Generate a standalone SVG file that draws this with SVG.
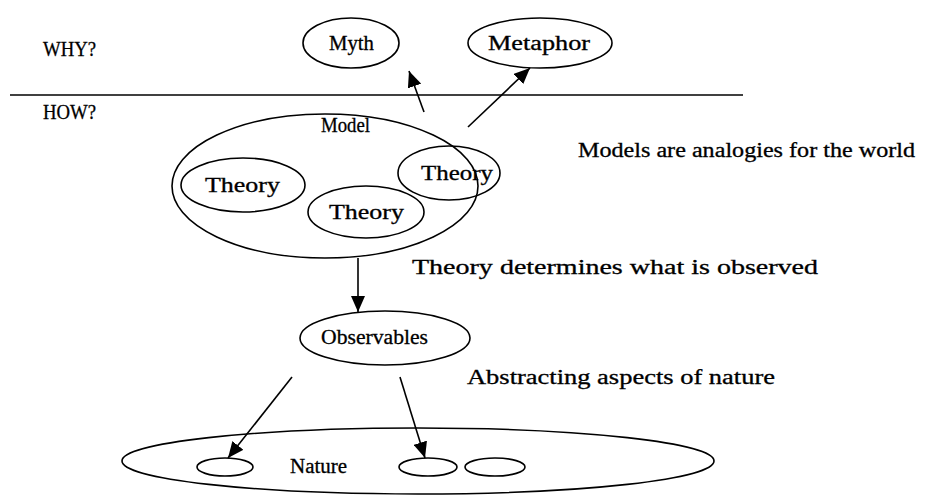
<svg xmlns="http://www.w3.org/2000/svg" width="949" height="502" viewBox="0 0 949 502">
<style>
text{font-family:"Liberation Serif","Times New Roman",serif;fill:#000;stroke:#000;stroke-width:0.3;font-size:20px;}
.e{fill:none;stroke:#000;stroke-width:1.6;}
.c{fill:none;stroke:#000;stroke-width:1.6;marker-end:url(#ah);}
</style>
<defs>
<marker id="ah" markerUnits="userSpaceOnUse" markerWidth="17" markerHeight="14" refX="16" refY="7" orient="auto">
<path d="M0,0 L16,7 L0,14 Z" fill="#000"/>
</marker>
</defs>
<rect width="949" height="502" fill="#fff"/>
<g id="labels">
<text x="43" y="56" textLength="53" lengthAdjust="spacingAndGlyphs">WHY?</text>
<text x="43" y="119" textLength="53" lengthAdjust="spacingAndGlyphs">HOW?</text>
<text x="578" y="157" textLength="337" lengthAdjust="spacingAndGlyphs">Models are analogies for the world</text>
<text x="412" y="274" textLength="406" lengthAdjust="spacingAndGlyphs">Theory determines what is observed</text>
<text x="467" y="384" textLength="308" lengthAdjust="spacingAndGlyphs">Abstracting aspects of nature</text>
</g>
<g id="divider"><line x1="10" y1="95" x2="743" y2="95" stroke="#000" stroke-width="1.6"/></g>
<g id="myth"><ellipse class="e" cx="351" cy="43" rx="48" ry="25"/><text x="329" y="50" textLength="45" lengthAdjust="spacingAndGlyphs">Myth</text></g>
<g id="metaphor"><ellipse class="e" cx="540" cy="43" rx="72" ry="25"/><text x="488" y="50" textLength="102" lengthAdjust="spacingAndGlyphs">Metaphor</text></g>
<g id="model"><ellipse class="e" cx="325" cy="186" rx="153" ry="72"/><text x="321" y="132" textLength="49" lengthAdjust="spacingAndGlyphs">Model</text></g>
<g id="theory1"><ellipse class="e" cx="243" cy="185" rx="62" ry="27"/><text x="205" y="192" textLength="75" lengthAdjust="spacingAndGlyphs">Theory</text></g>
<g id="theory2"><ellipse class="e" cx="366" cy="212" rx="58" ry="26"/><text x="329" y="219" textLength="75" lengthAdjust="spacingAndGlyphs">Theory</text></g>
<g id="theory3"><ellipse class="e" cx="449" cy="173" rx="51" ry="27"/><text x="421" y="180" textLength="72" lengthAdjust="spacingAndGlyphs">Theory</text></g>
<g id="observables"><ellipse class="e" cx="385" cy="338" rx="85" ry="27"/><text x="321" y="344" textLength="107" lengthAdjust="spacingAndGlyphs">Observables</text></g>
<g id="nature"><ellipse class="e" cx="418" cy="461" rx="296" ry="33"/><text x="290" y="473" textLength="57" lengthAdjust="spacingAndGlyphs">Nature</text>
<ellipse class="e" cx="225" cy="467" rx="28" ry="9"/>
<ellipse class="e" cx="428" cy="467" rx="29" ry="9"/>
<ellipse class="e" cx="495" cy="467" rx="30" ry="9"/></g>
<g id="connectors">
<line class="c" x1="424" y1="112" x2="409" y2="71"/>
<line class="c" x1="468" y1="127" x2="530" y2="68"/>
<line class="c" x1="358" y1="258" x2="358" y2="312"/>
<line class="c" x1="292" y1="377" x2="228" y2="458"/>
<line class="c" x1="400" y1="377" x2="425" y2="458"/>
</g>
</svg>
